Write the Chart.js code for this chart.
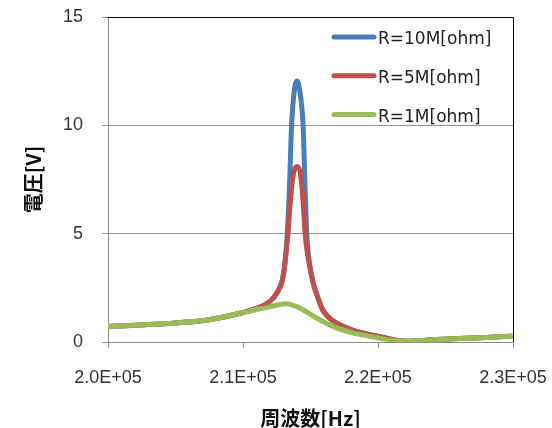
<!DOCTYPE html>
<html>
<head>
<meta charset="utf-8">
<script src="https://cdn.jsdelivr.net/npm/chart.js@4"></script>
<style>
  body { margin: 0; background: #fff; }
  #wrap { width: 552px; height: 428px; }
</style>
</head>
<body>
<div id="wrap"><canvas id="resonanceChart" width="552" height="428"></canvas></div>
<script>
// RESONANCE CURVES - voltage vs frequency

const seriesLabels = ['R=10M[ohm]', 'R=5M[ohm]', 'R=1M[ohm]'];
const seriesColors = ['#4a7ebb', '#c0504d', '#9bbb59'];

const freq10M = [200000, 202500, 205000, 207500, 210000, 211000, 211950, 212500, 212930, 213100, 213300, 213450, 213600, 213800, 214000, 214200, 214450, 214580, 214720, 214850, 215000, 215250, 215520, 215890, 216260, 216880, 218110, 219340, 220580, 221500, 222300, 224000, 226000, 228000, 230000];
const volt10M = [0.72, 0.79, 0.88, 1.03, 1.36, 1.55, 1.85, 2.25, 2.9, 3.6, 5.2, 7.3, 10.0, 11.6, 12.05, 11.6, 10.0, 7.5, 5.0, 4.0, 3.35, 2.6, 2.1, 1.5, 1.19, 0.89, 0.55, 0.35, 0.19, 0.07, 0.04, 0.1, 0.16, 0.21, 0.27];

const freq5M = [200000, 202500, 205000, 207500, 210000, 211000, 211950, 212500, 212930, 213100, 213330, 213520, 213750, 214000, 214250, 214450, 214600, 214800, 215000, 215250, 215520, 215890, 216260, 216880, 218110, 219340, 220580, 221500, 222300, 224000, 226000, 228000, 230000];
const volt5M = [0.72, 0.79, 0.88, 1.03, 1.36, 1.55, 1.85, 2.25, 2.9, 3.6, 5.0, 6.6, 7.8, 8.1, 7.8, 6.5, 5.0, 4.0, 3.3, 2.6, 2.1, 1.5, 1.19, 0.89, 0.55, 0.35, 0.19, 0.07, 0.04, 0.1, 0.16, 0.21, 0.27];

const freq1M = [200000, 202500, 205000, 207500, 210000, 211000, 211950, 212600, 213190, 213800, 214410, 215000, 215650, 216250, 216880, 218110, 219340, 220330, 221300, 222000, 223000, 224000, 226000, 228000, 230000];
const volt1M = [0.72, 0.79, 0.88, 1.03, 1.36, 1.5, 1.62, 1.72, 1.76, 1.68, 1.5, 1.28, 1.04, 0.84, 0.66, 0.42, 0.27, 0.15, 0.06, 0.04, 0.06, 0.1, 0.16, 0.21, 0.27];

const xTicks = [200000, 210000, 220000, 230000];
const yTicks = [0, 5, 10, 15];

function toPoints(xs, ys) {
    return xs.map((x, i) => ({ x: x, y: ys[i] }));
}

// plot border (top + right are black in the original) and legend inside the plot
const frameAndLegend = {
    id: 'frameAndLegend',
    beforeDatasetsDraw(chart) {
        const { ctx, chartArea: a } = chart;
        ctx.save();
        ctx.strokeStyle = '#000';
        ctx.lineWidth = 1;
        ctx.beginPath();
        ctx.moveTo(a.left, a.top + 0.5);
        ctx.lineTo(a.right + 0.5, a.top + 0.5);
        ctx.lineTo(a.right + 0.5, a.bottom);
        ctx.stroke();
        ctx.restore();
    },
    afterDraw(chart) {
        const ctx = chart.ctx;
        ctx.save();
        chart.data.datasets.forEach((ds, i) => {
            const y = 37 + i * 38.8;
            ctx.strokeStyle = ds.borderColor;
            ctx.lineWidth = 5;
            ctx.lineCap = 'round';
            ctx.beginPath();
            ctx.moveTo(334, y);
            ctx.lineTo(374, y);
            ctx.stroke();
            ctx.fillStyle = '#222';
            ctx.font = '17px "DejaVu Sans"';
            ctx.textBaseline = 'middle';
            ctx.textAlign = 'left';
            ctx.fillText(ds.label, 378, y + 3);
        });
        ctx.restore();
    }
};

const ctx = document.getElementById('resonanceChart');

new Chart(ctx, {
    type: 'line',
    data: {
        datasets: [
            { label: seriesLabels[0], data: toPoints(freq10M, volt10M), borderColor: seriesColors[0], order: 2 },
            { label: seriesLabels[1], data: toPoints(freq5M, volt5M), borderColor: seriesColors[1], order: 1 },
            { label: seriesLabels[2], data: toPoints(freq1M, volt1M), borderColor: seriesColors[2], order: 0 }
        ]
    },
    options: {
        responsive: false,
        animation: false,
        events: [],
        layout: {
            padding: 0
        },
        elements: {
            point: { radius: 0 },
            line: {
                borderWidth: 5,
                cubicInterpolationMode: 'monotone',
                borderJoinStyle: 'round',
                borderCapStyle: 'round',
                fill: false
            }
        },
        plugins: {
            legend: { display: false },
            tooltip: { enabled: false }
        },
        scales: {
            x: {
                type: 'linear',
                min: 200000,
                max: 230000,
                afterBuildTicks: (scale) => { scale.ticks = xTicks.map(v => ({ value: v })); },
                afterFit: (scale) => { scale.height = 86; scale.paddingLeft = 0; scale.paddingRight = 39; },
                grid: {
                    drawOnChartArea: false,
                    color: '#8c8c8c',
                    tickLength: 6
                },
                border: { color: '#8c8c8c' },
                ticks: {
                    autoSkip: false,
                    maxRotation: 0,
                    padding: 19,
                    color: '#333',
                    font: { family: '"Liberation Sans"', size: 18 },
                    callback: (v) => (v / 100000).toFixed(1) + 'E+05'
                },
                title: {
                    display: true,
                    text: '周波数[Hz]',
                    color: '#111',
                    padding: { top: 0, bottom: 0 },
                    font: { family: '"Noto Sans CJK JP"', size: 20, weight: 'bold', lineHeight: 1 }
                }
            },
            y: {
                min: 0,
                max: 15,
                afterBuildTicks: (scale) => { scale.ticks = yTicks.map(v => ({ value: v })); },
                afterFit: (scale) => { scale.width = 108; scale.paddingTop = 17; scale.paddingBottom = 0; },
                grid: {
                    color: '#969696',
                    tickLength: 6
                },
                border: { color: '#8c8c8c' },
                ticks: {
                    padding: 19,
                    color: '#333',
                    font: { family: '"Liberation Sans"', size: 18 }
                },
                title: {
                    display: true,
                    text: '電圧[V]',
                    color: '#111',
                    padding: { top: 23, bottom: 0 },
                    font: { family: '"Noto Sans CJK JP"', size: 20, weight: 'bold', lineHeight: 1 }
                }
            }
        }
    },
    plugins: [frameAndLegend]
});
</script>
</body>
</html>
